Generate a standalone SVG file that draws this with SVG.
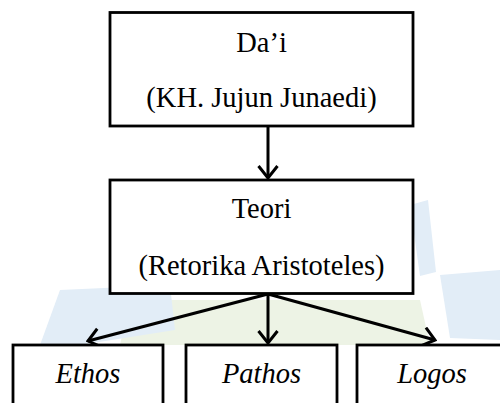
<svg xmlns="http://www.w3.org/2000/svg" width="500" height="403" viewBox="0 0 500 403">
<style>
.box{fill:#fff;stroke:#000;stroke-width:2.8}
.t{font-family:"Liberation Serif","Times New Roman","DejaVu Serif",serif;font-size:28.5px;fill:#000;text-anchor:middle}
.i{font-style:italic}
.c{stroke:#000;stroke-width:3;fill:none}
.wb{fill:#e2edf7}
.wg{fill:#edf3e5}
</style>
<defs>
<marker id="ah" viewBox="0 0 16 22" refX="14" refY="11" markerWidth="16" markerHeight="22" markerUnits="userSpaceOnUse" orient="auto">
<path d="M2,1.5 L14,11 L2,20.5" fill="none" stroke="#000" stroke-width="3" stroke-linejoin="miter"/>
</marker>
</defs>
<g id="watermark">
<polygon class="wg" points="130,300 420,300 430,345 120,345"/>
<polygon class="wb" points="60,290 170,285 175,330 80,345 40,345"/>
<polygon class="wb" points="410,205 428,200 436,272 420,276"/>
<polygon class="wb" points="440,275 500,270 500,340 450,338"/>
</g>
<g id="connectors">
<line class="c" x1="268" y1="126" x2="268" y2="178" marker-end="url(#ah)"/>
<line class="c" x1="268" y1="294" x2="88" y2="341" marker-end="url(#ah)"/>
<line class="c" x1="268" y1="294" x2="268" y2="343" marker-end="url(#ah)"/>
<line class="c" x1="268" y1="294" x2="435" y2="340" marker-end="url(#ah)"/>
</g>
<g id="node-dai">
<rect class="box" x="110" y="12.5" width="303" height="113.5"/>
<text class="t" x="261.5" y="52" font-family="Liberation Serif, serif">Da’i</text>
<text class="t" x="261.5" y="107" font-family="Liberation Serif, serif">(KH. Jujun Junaedi)</text>
</g>
<g id="node-teori">
<rect class="box" x="110" y="180" width="303" height="113.5"/>
<text class="t" x="261.5" y="218" font-family="Liberation Serif, serif">Teori</text>
<text class="t" x="261.5" y="275" font-family="Liberation Serif, serif">(Retorika Aristoteles)</text>
</g>
<g id="node-ethos">
<rect class="box" x="13" y="345" width="150" height="70"/>
<text class="t i" x="88" y="383" font-family="Liberation Serif, serif">Ethos</text>
</g>
<g id="node-pathos">
<rect class="box" x="186" y="345" width="151" height="70"/>
<text class="t i" x="261.5" y="383" font-family="Liberation Serif, serif">Pathos</text>
</g>
<g id="node-logos">
<rect class="box" x="357" y="345" width="151" height="70"/>
<text class="t i" x="432" y="383" font-family="Liberation Serif, serif">Logos</text>
</g>
</svg>
